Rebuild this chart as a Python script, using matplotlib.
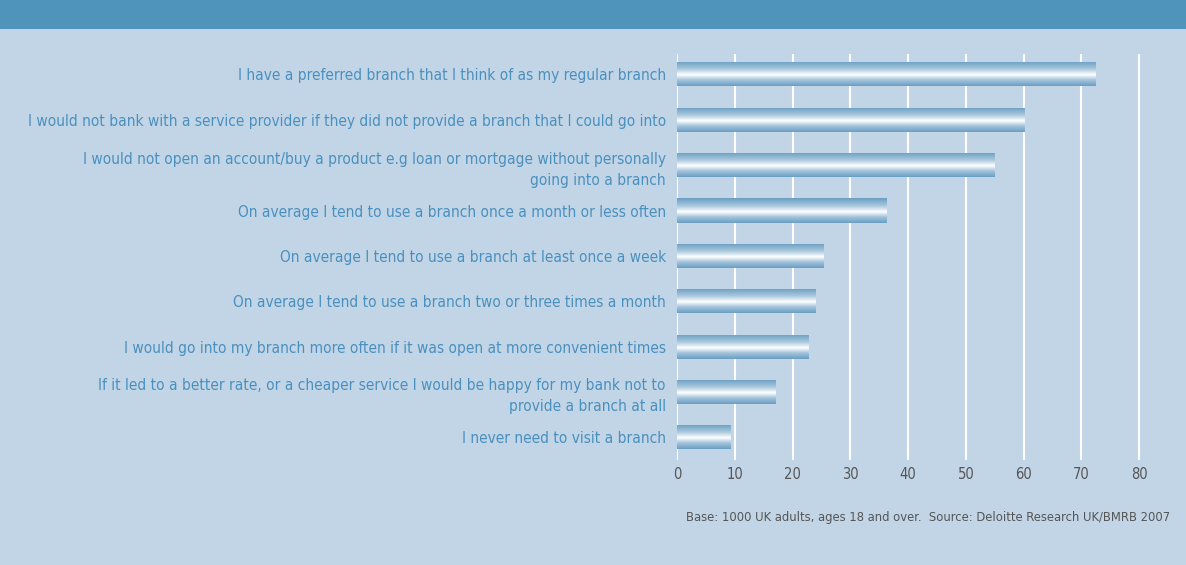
import numpy as np
import matplotlib.pyplot as plt
from matplotlib.patches import Rectangle
from matplotlib.colors import LinearSegmentedColormap

labels = [
    "I have a preferred branch that I think of as my regular branch",
    "I would not bank with a service provider if they did not provide a branch that I could go into",
    "I would not open an account/buy a product e.g loan or mortgage without personally\ngoing into a branch",
    "On average I tend to use a branch once a month or less often",
    "On average I tend to use a branch at least once a week",
    "On average I tend to use a branch two or three times a month",
    "I would go into my branch more often if it was open at more convenient times",
    "If it led to a better rate, or a cheaper service I would be happy for my bank not to\nprovide a branch at all",
    "I never need to visit a branch",
]
values = [72.5, 60.2, 55.0, 36.2, 25.3, 23.9, 22.7, 17.0, 9.3]
xticks = [0, 10, 20, 30, 40, 50, 60, 70, 80]
note = "Base: 1000 UK adults, ages 18 and over.  Source: Deloitte Research UK/BMRB 2007"

BG = "#c2d5e6"
HEADER = "#4f95bb"
LABEL = "#4a90be"
FONT = "DejaVu Sans"

fig = plt.figure(figsize=(11.86, 5.65), dpi=100, facecolor=BG)
fig.patches.append(Rectangle((0, 1 - 29 / 565), 1, 29 / 565, transform=fig.transFigure,
                             facecolor=HEADER, edgecolor="none"))

ax = fig.add_axes([677 / 1186, 1 - 460 / 565, 491 / 1186, 406 / 565])
ax.set_facecolor(BG)

renderer = fig.canvas.get_renderer()


def fit_size(text, width_px, base=12):
    t = fig.text(0, 0, text, fontsize=base, family=FONT, stretch="condensed")
    w = t.get_window_extent(renderer).width
    t.remove()
    return base * width_px / w


label_fs = fit_size(labels[1], 636)
note_fs = fit_size(note, 482)

# vertical gradient: darker blue at edges, white band just below the middle
cmap = LinearSegmentedColormap.from_list(
    "bar", [(0, "#6a9fc3"), (0.3, "#a6c6dc"), (0.55, "#ffffff"), (0.75, "#a6c6dc"), (1, "#6a9fc3")])
grad = np.linspace(0, 1, 64).reshape(-1, 1)

ypos = np.arange(len(values))
bars = ax.barh(ypos, values, height=0.53, color="none", edgecolor="none", zorder=3)
for b in bars:
    x0, y0 = b.get_x(), b.get_y()
    w, h = b.get_width(), b.get_height()
    im = ax.imshow(grad, cmap=cmap, aspect="auto", extent=[x0, x0 + w, y0 + h, y0],
                   zorder=3, interpolation="bilinear")
    im.set_clip_path(b)

ax.set_xlim(0, 85)
ax.set_ylim(8.5, -0.45)
ax.set_xticks(xticks)
ax.grid(axis="x", color="white", linewidth=1.5, zorder=1)
ax.set_axisbelow(True)
for s in ax.spines.values():
    s.set_visible(False)
ax.tick_params(axis="both", length=0)
ax.tick_params(axis="x", pad=5, labelcolor="#555555")
for t in ax.get_xticklabels():
    t.set_family(FONT)
    t.set_stretch("condensed")
    t.set_fontsize(label_fs * 0.95)
ax.set_yticks(ypos)
ax.set_yticklabels(labels, fontsize=label_fs, color=LABEL, family=FONT, linespacing=1.5)
for t in ax.get_yticklabels():
    t.set_stretch("condensed")
ax.tick_params(axis="y", pad=8)

fig.text(1170 / 1186, 1 - 518 / 565, note, ha="right", va="center", fontsize=note_fs,
         color="#555555", family=FONT, stretch="condensed")

fig.savefig("out.png", dpi=100, facecolor=BG)
